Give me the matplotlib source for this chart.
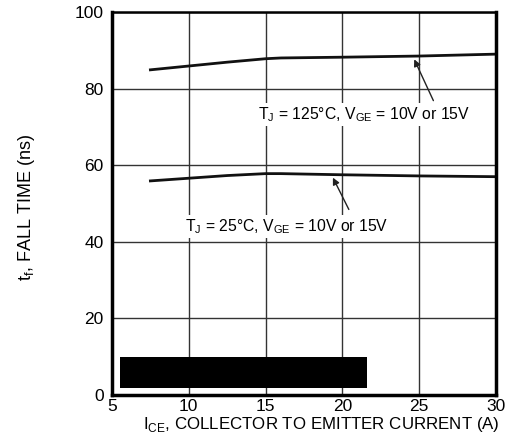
import matplotlib.pyplot as plt

plt.rcParams['font.family'] = ['Liberation Sans', 'DejaVu Sans']

# fall time vs collector current
corriente125 = [7.5, 10, 12.5, 15, 16, 20, 25, 30]
tiempo125 = [84.9, 85.9, 86.9, 87.8, 88.0, 88.2, 88.5, 89.0]
corriente25 = [7.5, 10, 12.5, 15, 16, 20, 25, 30]
tiempo25 = [55.9, 56.6, 57.3, 57.8, 57.8, 57.5, 57.2, 57.0]

# block covering the lower left part of the chart
bloqueX = [5.5, 21.6]
bloqueY = [1.8, 9.9]

xTicks = [5, 10, 15, 20, 25, 30]
yTicks = [0, 20, 40, 60, 80, 100]

fig = plt.figure(figsize=(5.11, 4.42), dpi=100)
ax = fig.add_axes([112/511, 1-395/442, 384/511, 383/442])

ax.plot(corriente125, tiempo125, color='#111111', lw=2)
ax.plot(corriente25, tiempo25, color='#111111', lw=2)

ax.fill_between(bloqueX, bloqueY[0], bloqueY[1], color='black', lw=0, zorder=5)

ax.set_xlim(5, 30)
ax.set_ylim(0, 100)
ax.set_xticks(xTicks)
ax.set_yticks(yTicks)
ax.tick_params(length=0, labelsize=12.5)
ax.tick_params(axis='y', pad=6)
ax.tick_params(axis='x', pad=3)
ax.grid(True, color='#333333', lw=1)
ax.set_axisbelow(True)
for lado in ['left', 'bottom', 'right']:
    ax.spines[lado].set_linewidth(2.5)
ax.spines['top'].set_linewidth(1.8)

ax.annotate('', xy=(24.6, 88.3), xytext=(26.0, 76.2),
            arrowprops=dict(arrowstyle='-|>', color='#222222', lw=1, mutation_scale=10))
ax.annotate('', xy=(19.3, 57.4), xytext=(20.5, 47.8),
            arrowprops=dict(arrowstyle='-|>', color='#222222', lw=1, mutation_scale=10))

caja = dict(fc='white', ec='none', pad=1.5)
ax.text(14.5, 73.2, r'T$_\mathregular{J}$ = 125°C, V$_\mathregular{GE}$ = 10V or 15V',
        ha='left', va='center', fontsize=11.3, bbox=caja, zorder=6)
ax.text(9.75, 44.0, r'T$_\mathregular{J}$ = 25°C, V$_\mathregular{GE}$ = 10V or 15V',
        ha='left', va='center', fontsize=11.3, bbox=caja, zorder=6)

ax.set_xlabel(r'I$_\mathregular{CE}$, COLLECTOR TO EMITTER CURRENT (A)', fontsize=12.2)
ax.xaxis.set_label_coords(0.544, -0.052)
ax.set_ylabel(r't$_\mathregular{f}$, FALL TIME (ns)', fontsize=13)
ax.yaxis.set_label_coords(-0.195, 0.49)

plt.savefig('out.png', dpi=100)
